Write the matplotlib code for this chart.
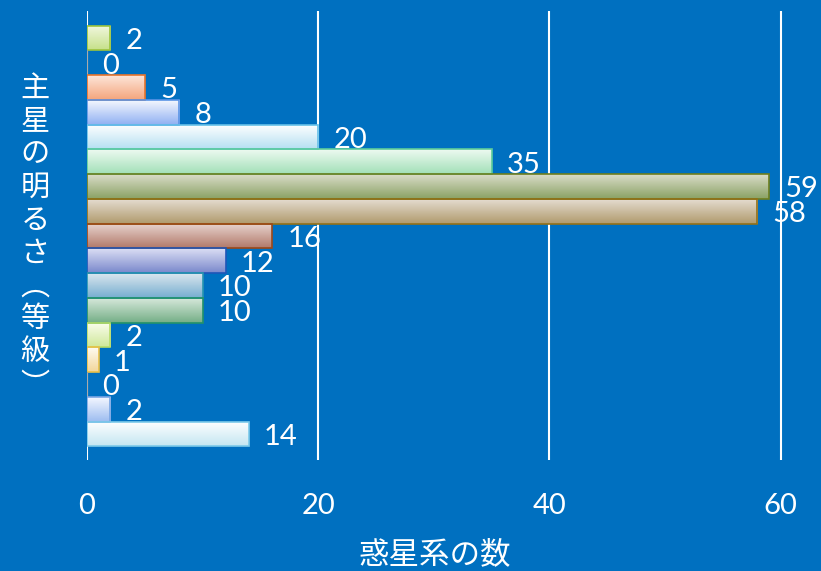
import numpy as np
import matplotlib
matplotlib.use("Agg")
import matplotlib.pyplot as plt
from matplotlib.colors import LinearSegmentedColormap

# data, top to bottom
counts = [2, 0, 5, 8, 20, 35, 59, 58, 16, 12, 10, 10, 2, 1, 0, 2, 14]
top_colors = ["#f2f8e0", "#ffffff", "#fde6da", "#f4f7fe", "#ffffff", "#eefaf1",
              "#dadcc9", "#e4dcd0", "#e8d4d0", "#dcdff4", "#dae6ee", "#d6e8da",
              "#fbfdee", "#fffbf2", "#ffffff", "#f4f7ff", "#ffffff"]
bottom_colors = ["#c6e08a", "#cccccc", "#f4a57c", "#90b0f2", "#b6e0f2", "#a2e0b8",
                 "#8aa264", "#b09a6c", "#b27a6a", "#7a88cc", "#76aed0", "#74ae86",
                 "#cfe89a", "#f2d69a", "#cccccc", "#9cbcf0", "#c4e6f2"]
edge_colors = ["#9cc43c", "#999999", "#e8742c", "#5a94e6", "#66c0e8", "#5ccc9a",
               "#6e7e1e", "#927018", "#9c4818", "#1e56b8", "#2896b0", "#22926a",
               "#b8dc68", "#e8c048", "#999999", "#7aa6e4", "#7ccaea"]

xlabel = "惑星系の数"
ylabel_chars = ["主", "星", "の", "明", "る", "さ", "︵", "等", "級", "︶"]
xticks = [0, 20, 40, 60]

bg = "#0070c0"
num_font = ["Lato", "DejaVu Sans"]
jp_font = ["Noto Sans CJK JP", "DejaVu Sans"]

fig = plt.figure(figsize=(8.21, 5.71), dpi=100, facecolor=bg)
ax = fig.add_axes([87 / 821, 1 - 460 / 571, 1 - 87 / 821, 449 / 571])
ax.set_facecolor(bg)

y = np.arange(len(counts))
bars = ax.barh(y, counts, height=1.0, facecolor="none",
               edgecolor=edge_colors, linewidth=1.2, zorder=3)

grad = np.linspace(0, 1, 64).reshape(-1, 1)
for b, c1, c2, v in zip(bars, top_colors, bottom_colors, counts):
    if v == 0:
        continue
    cmap = LinearSegmentedColormap.from_list("g", [c1, c2])
    x0, y0 = b.get_x(), b.get_y()
    w, h = b.get_width(), b.get_height()
    im = ax.imshow(grad, cmap=cmap, aspect="auto", origin="upper",
                   extent=(x0, x0 + w, y0 + h, y0), zorder=2)
    im.set_clip_path(b)

for b, v in zip(bars, counts):
    ax.annotate(str(v), (b.get_width(), b.get_y() + b.get_height() / 2),
                xytext=(11, -2), textcoords="offset points",
                ha="left", va="center", color="white", fontsize=21,
                family=num_font, zorder=4)

ax.set_xlim(0, 63.5)
ax.set_ylim(17.05, -1.09)
ax.set_xticks(xticks)
ax.set_xticklabels([str(t) for t in xticks], family=num_font)
ax.set_yticks([])
ax.tick_params(axis="x", length=0, pad=24, labelsize=21, colors="white")
ax.grid(axis="x", color="white", linewidth=1.5, zorder=1)
ax.set_axisbelow(True)
for s in ax.spines.values():
    s.set_visible(False)

fig.text(435 / 821, 1 - 555 / 571, xlabel, ha="center", va="center",
         color="white", fontsize=22, family=jp_font)
fig.text(35 / 821, 1 - 237 / 571, "\n".join(ylabel_chars), ha="center",
         va="center", color="white", fontsize=21, family=jp_font,
         linespacing=1.13)

fig.savefig("out.png", dpi=100, facecolor=bg)
